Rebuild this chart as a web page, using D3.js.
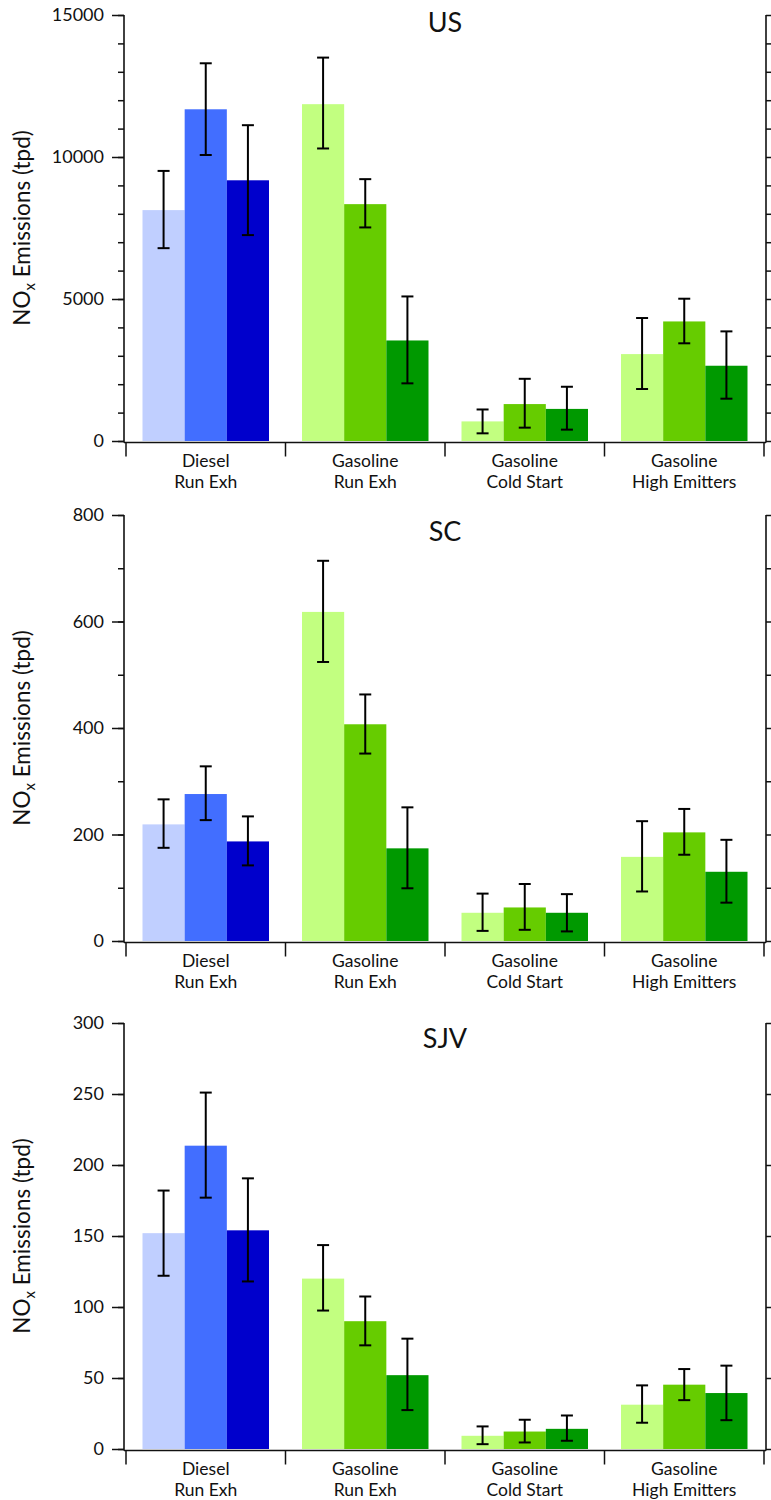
<!DOCTYPE html>
<html>
<head>
<meta charset="utf-8">
<script src="https://cdn.jsdelivr.net/npm/d3@7"></script>
<style>
  html, body { margin: 0; padding: 0; background: #fff; }
  svg { display: block; font-family: Lato, "Open Sans", sans-serif; }
</style>
</head>
<body>
<svg id="chart" width="771" height="1500"></svg>
<script>
// Source categories (two-line labels) and regions
const categories = [
  ["Diesel", "Run Exh"],
  ["Gasoline", "Run Exh"],
  ["Gasoline", "Cold Start"],
  ["Gasoline", "High Emitters"]
];
const regions = ["US", "SC", "SJV"];

// Axis extents and tick steps per region
const yMax = [15000, 800, 300];
const majorStep = [5000, 200, 50];
const minorStep = [1000, 100, 50];

// NOx emissions (tpd): three estimates per category, with uncertainty ranges
const usMean = [[8130, 11680, 9180], [11860, 8340, 3540], [690, 1300, 1130], [3060, 4210, 2650]];
const usLow  = [[6790, 10070, 7250], [10300, 7520, 2030], [270, 470, 400], [1830, 3440, 1490]];
const usHigh = [[9510, 13300, 11120], [13500, 9220, 5090], [1110, 2190, 1910], [4330, 5010, 3860]];

const scMean = [[219, 276, 187], [618, 407, 174], [53, 63, 53], [158, 204, 130]];
const scLow  = [[175, 227, 142], [524, 352, 99], [19, 21, 18], [93, 162, 72]];
const scHigh = [[266, 328, 234], [714, 463, 251], [89, 107, 88], [225, 248, 190]];

const sjvMean = [[152, 213.6, 154], [120, 90, 52], [9.3, 12.3, 14.2], [31.2, 45.3, 39.4]];
const sjvLow  = [[122, 177, 118], [97.5, 73, 27.4], [3.4, 4.6, 5.8], [18.5, 34.4, 20.3]];
const sjvHigh = [[182, 251, 190.6], [143.6, 107.4, 77.7], [15.9, 20.6, 23.6], [44.8, 56.3, 58.7]];

const means = [usMean, scMean, sjvMean];
const lows = [usLow, scLow, sjvLow];
const highs = [usHigh, scHigh, sjvHigh];

// Diesel bars in blues, gasoline bars in greens
const blues = ["#c0cfff", "#426eff", "#0000cc"];
const greens = ["#c2ff80", "#66cc00", "#009900"];

const svg = d3.select("#chart");
const leftX = 124, rightX = 766;
const plotTops = [15, 515, 1023];
const plotH = 426;
const titleOffsets = [16.5, 25.5, 24.5];

const x = d3.scaleBand().domain(d3.range(categories.length)).range([126, 764]);
const xs = d3.scaleBand().domain([0, 1, 2]).range([16.5, x.bandwidth() - 16.5]);

regions.forEach((name, p) => {
  const top = plotTops[p];
  const base = top + plotH;
  const y = d3.scaleLinear().domain([0, yMax[p]]).range([base, top]);
  const g = svg.append("g");

  // bars
  const rows = [];
  categories.forEach((c, ci) => {
    for (let s = 0; s < 3; s++) {
      rows.push({ ci, s, v: means[p][ci][s], lo: lows[p][ci][s], hi: highs[p][ci][s] });
    }
  });
  g.selectAll("rect.bar").data(rows).join("rect")
    .attr("class", "bar")
    .attr("x", d => x(d.ci) + xs(d.s))
    .attr("width", xs.bandwidth())
    .attr("y", d => y(d.v))
    .attr("height", d => base - y(d.v))
    .attr("fill", d => (d.ci === 0 ? blues : greens)[d.s]);

  // error bars
  const eb = g.selectAll("g.err").data(rows).join("g").attr("class", "err")
    .attr("stroke", "#000").attr("stroke-width", 2).attr("fill", "none");
  const cx = d => x(d.ci) + xs(d.s) + xs.bandwidth() / 2;
  eb.append("line").attr("x1", cx).attr("x2", cx).attr("y1", d => y(d.lo)).attr("y2", d => y(d.hi));
  eb.append("line").attr("x1", d => cx(d) - 6).attr("x2", d => cx(d) + 6).attr("y1", d => y(d.hi)).attr("y2", d => y(d.hi));
  eb.append("line").attr("x1", d => cx(d) - 6).attr("x2", d => cx(d) + 6).attr("y1", d => y(d.lo)).attr("y2", d => y(d.lo));

  // left axis: labelled major ticks plus short minor ticks
  const majors = d3.range(0, yMax[p] + 1e-9, majorStep[p]);
  const minors = d3.range(0, yMax[p] + 1e-9, minorStep[p]);
  const leftMinor = g.append("g").attr("transform", `translate(${leftX},0)`)
    .call(d3.axisLeft(y).tickValues(minors).tickSize(6).tickFormat(""));
  const leftMajor = g.append("g").attr("transform", `translate(${leftX},0)`)
    .call(d3.axisLeft(y).tickValues(majors).tickSize(12).tickPadding(8).tickFormat(d3.format("d")));
  const rightAx = g.append("g").attr("transform", `translate(${rightX},0)`)
    .call(d3.axisRight(y).tickValues(minors).tickSize(6).tickFormat(""));
  [leftMinor, leftMajor, rightAx].forEach(a => {
    a.select(".domain").remove();
    a.selectAll(".tick line").attr("stroke", "#111").attr("stroke-width", 1.5);
  });
  leftMajor.selectAll(".tick text").attr("font-size", 18).attr("fill", "#111")
    .attr("font-family", "Lato, sans-serif");

  // frame lines: left, right, bottom
  const lineY0 = base + 1.5;
  g.append("line").attr("x1", leftX).attr("x2", leftX).attr("y1", top).attr("y2", lineY0)
    .attr("stroke", "#111").attr("stroke-width", 1.6);
  g.append("line").attr("x1", rightX).attr("x2", rightX).attr("y1", top).attr("y2", lineY0)
    .attr("stroke", "#111").attr("stroke-width", 1.6);
  g.append("line").attr("x1", leftX).attr("x2", rightX).attr("y1", lineY0).attr("y2", lineY0)
    .attr("stroke", "#111").attr("stroke-width", 1.6);

  // category separators below the axis
  const seps = d3.range(categories.length + 1).map(i => i < categories.length ? x(i) : x.range()[1]);
  g.selectAll("line.sep").data(seps).join("line").attr("class", "sep")
    .attr("x1", d => d).attr("x2", d => d).attr("y1", lineY0).attr("y2", lineY0 + 14)
    .attr("stroke", "#111").attr("stroke-width", 1.5);

  // category labels (two lines each)
  const lab = g.selectAll("text.cat").data(categories).join("text").attr("class", "cat")
    .attr("text-anchor", "middle").attr("font-size", 17.5).attr("fill", "#111");
  lab.append("tspan").attr("x", (d, i) => x(i) + x.bandwidth() / 2).attr("y", lineY0 + 24.5).text(d => d[0]);
  lab.append("tspan").attr("x", (d, i) => x(i) + x.bandwidth() / 2).attr("y", lineY0 + 45.5).text(d => d[1]);

  // panel title
  g.append("text").attr("x", (leftX + rightX) / 2).attr("y", top + titleOffsets[p])
    .attr("text-anchor", "middle").attr("font-size", 27).attr("fill", "#111").text(name);

  // y-axis title with subscript
  const yt = g.append("text")
    .attr("transform", `translate(30,${top + plotH / 2}) rotate(-90)`)
    .attr("text-anchor", "middle").attr("font-size", 22.5).attr("fill", "#111");
  yt.append("tspan").text("NO");
  yt.append("tspan").attr("font-size", 15).attr("dy", 5).text("x");
  yt.append("tspan").attr("dy", -5).text(" Emissions (tpd)");
});
</script>
</body>
</html>
